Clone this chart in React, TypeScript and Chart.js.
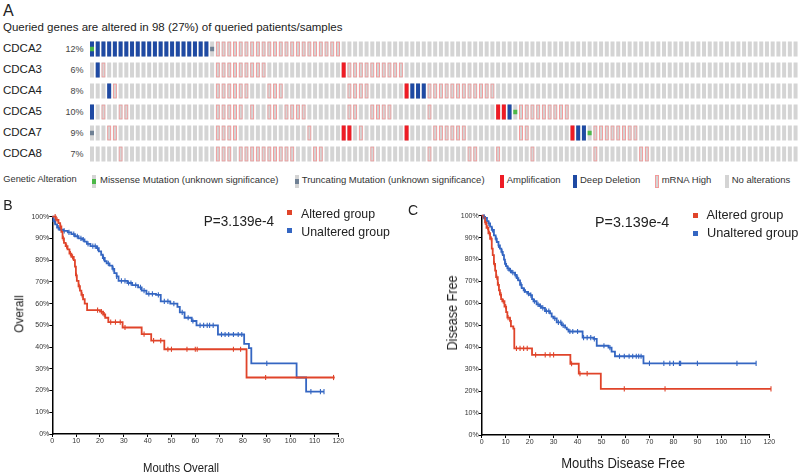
import React, { useEffect, useRef } from 'react';
import { Chart, registerables } from 'chart.js';
Chart.register(...registerables);

const FONT = '"Liberation Sans", Arial, Helvetica, sans-serif';

// ---------- Panel A: oncoprint ----------
const GENES = ['CDCA2', 'CDCA3', 'CDCA4', 'CDCA5', 'CDCA7', 'CDCA8'];
const GENE_PCT = ['12%', '6%', '8%', '10%', '9%', '7%'];
// one char per sample column: . none, M mRNA high, A amplification, D deep deletion,
// S missense, T truncating, X deep deletion + missense
const CDCA2_ROW = 'XDDDDDDDDD DDDDDDDDDD DTMMMMMMMM MMMMMMMMMM MMMM...... .......... .......... .......... .......... .......... .......... .......... ....';
const CDCA3_ROW = '.DM....... .......... ..MMMMMMMM M......... ....AMMMMM MMMMM..... .......... .......... .......... .......... .......... .......... ....';
const CDCA4_ROW = '...DM..... .......... ..MMMMMM.. .MMM...... .....MMMM. .....ADDDM MMMMMMMMMM M......... .......... .......... .......... .......... ....';
const CDCA5_ROW = 'D.M..MM... .......... ..MMMMM.M. .MM.MMMM.. .....MM..M MMM......M .......... .AADSMMMMM MMMM...... .......... .......... .......... ....';
const CDCA7_ROW = 'T..MM..... .......... ..MMMM.... ........M. ....AA.M.. .....A.... MMMMMM.... .....MM... ....ADDSMM MMMMMM.... .......... .......... ....';
const CDCA8_ROW = '.....M.... .......... ..MMM.MMMM MMMMMM...M M........M .........M ......MM.. .M.....M.. ........M. ......MM.. .......... .......... ....';
const GENE_ROWS = [CDCA2_ROW, CDCA3_ROW, CDCA4_ROW, CDCA5_ROW, CDCA7_ROW, CDCA8_ROW];

const C_GRAY = '#d4d4d4';
const C_MRNA = '#f39a9a';
const C_AMP = '#ee1c25';
const C_DEL = '#1f4aa3';
const C_MISS = '#4cb848';
const C_TRUNC = '#6f8094';

// ---------- Panel B: overall survival ----------
const B_ALT_T = [0, 1.5, 2.6, 3.3, 3.8, 4.3, 4.9, 5.6, 6.4, 7.2, 8.0, 9.0, 9.5, 9.9, 10.3, 11.0, 11.6, 12.2, 12.9, 13.6, 14.6, 20.0, 21.3, 22.2, 23.5, 29.5, 37.5, 41.5, 47.0, 81.5, 118.5];
const B_ALT_S = [100, 98.5, 97, 95.5, 93, 90, 88, 86.5, 85, 83, 81.5, 80, 77, 73, 70.5, 68, 66, 64, 62, 60, 57, 56.3, 55, 53.5, 51.5, 49, 46, 43, 39, 26, 26];
const B_ALT_CENS = [1.2, 2.0, 3.5, 4.6, 6.0, 7.6, 8.5, 10.1, 11.3, 12.5, 19.0, 20.6, 21.8, 24.5, 26.5, 28.5, 30.5, 38.5, 42.5, 45.5, 48.5, 50.0, 56.5, 60.0, 60.8, 76.0, 79.0, 89.5, 118.0];
const B_UNALT_T = [0, 0.5, 1.2, 2.0, 3.0, 4.6, 6.5, 8.0, 9.5, 11.0, 12.5, 13.5, 14.5, 16.0, 18.5, 19.5, 20.5, 21.2, 22.0, 22.8, 24.0, 25.2, 26.0, 27.0, 27.8, 31.5, 33.5, 36.0, 37.5, 39.5, 43.5, 45.5, 49.5, 52.5, 53.5, 55.5, 58.5, 60.5, 69.5, 80.5, 82.5, 83.5, 102.5, 106.5, 114.0];
const B_UNALT_S = [100, 98, 96.5, 95, 94, 93.5, 92.8, 92, 91, 90, 89.5, 88.5, 87.5, 86.5, 85.5, 84, 82.5, 81, 79.5, 78.5, 77.5, 76, 74, 72.5, 70.5, 69.5, 68.5, 67.5, 66, 64.5, 64, 61, 60, 58.5, 56, 53.5, 52, 50, 45.8, 41.5, 39.5, 32.5, 26, 19.5, 19.5];
const B_UNALT_CENS = [1.0, 2.5, 5.0, 7.0, 9.0, 10.5, 12.0, 13.0, 15.0, 17.0, 18.0, 19.0, 21.5, 23.5, 25.5, 27.0, 29.0, 30.5, 32.0, 33.0, 35.0, 37.0, 38.5, 40.5, 42.0, 44.5, 47.0, 48.5, 51.0, 54.5, 57.0, 59.0, 62.0, 63.5, 65.0, 66.0, 67.5, 71.0, 72.5, 74.0, 76.0, 78.0, 79.5, 90.0, 108.5, 112.5, 114.0];

// ---------- Panel C: disease free ----------
const C_ALT_T = [0, 0.8, 1.4, 2.0, 2.8, 3.5, 4.2, 4.6, 5.1, 5.6, 6.0, 6.7, 7.2, 7.6, 8.1, 8.6, 9.5, 10.2, 10.7, 11.8, 12.2, 13.2, 13.6, 21.0, 37.0, 40.5, 49.7, 120.7];
const C_ALT_S = [100, 99, 97, 94.5, 92, 89.5, 85, 82, 78, 75, 72, 68.5, 66, 64, 62, 61, 58.5, 56, 53.5, 52, 49.5, 48.5, 39.5, 36.5, 32.5, 28, 21, 21];
const C_ALT_CENS = [1.5, 2.5, 3.2, 4.0, 5.3, 6.3, 7.0, 8.0, 9.0, 10.0, 11.0, 12.0, 14.5, 16.0, 17.5, 19.0, 22.5, 26.5, 28.5, 30.0, 37.5, 41.0, 44.0, 59.5, 76.5, 120.7];
const C_UNALT_T = [0, 0.8, 1.4, 2.2, 2.8, 3.5, 4.2, 5.1, 5.8, 6.3, 7.0, 7.6, 8.2, 8.8, 9.3, 9.7, 10.2, 10.7, 11.5, 12.5, 13.9, 14.6, 15.3, 16.0, 16.7, 17.5, 18.1, 19.0, 20.2, 21.0, 21.6, 22.9, 24.0, 25.0, 26.4, 28.5, 29.2, 29.9, 31.3, 33.4, 34.8, 35.5, 36.2, 42.1, 46.6, 48.0, 52.9, 54.2, 55.6, 67.5, 114.5];
const C_UNALT_S = [100, 99.5, 99, 97.5, 96.5, 95, 93.5, 91, 89.5, 88, 86.5, 85, 83.5, 82, 80, 78, 77, 76, 75, 74, 73, 71.5, 70.5, 68.5, 67, 66, 65.3, 64.5, 63.8, 62, 61, 59.6, 58.8, 58, 56.5, 55.5, 54, 53.2, 51.4, 50, 49, 48.2, 47.2, 44.4, 43.8, 40.7, 39.8, 38, 35.9, 32.7, 32.7];
const C_UNALT_CENS = [1.0, 3.0, 4.5, 6.0, 7.0, 8.5, 10.0, 11.0, 12.0, 13.0, 14.0, 15.0, 16.5, 17.8, 19.5, 20.5, 22.0, 23.5, 24.5, 25.5, 27.0, 28.0, 30.5, 32.0, 33.0, 34.0, 36.8, 38.0, 40.0, 42.5, 44.0, 45.5, 47.0, 51.0, 53.5, 57.5, 59.5, 61.5, 63.0, 64.5, 65.5, 66.5, 70.0, 76.0, 78.5, 80.0, 82.5, 83.0, 90.0, 106.5, 114.5];

const KM_X_TICKS = [0, 10, 20, 30, 40, 50, 60, 70, 80, 90, 100, 110, 120];
const KM_Y_TICKS = [0, 10, 20, 30, 40, 50, 60, 70, 80, 90, 100];

const C_RED = '#e0442a';
const C_BLUE = '#3466c2';

// ---------- chart builders ----------
function oncoConfig(): any {
  const rows = GENE_ROWS.map((s) => s.replace(/\s/g, ''));
  const n = rows[0].length;
  const labels = rows[0].split('').map((_, i) => String(i + 1));
  const H = 0.357;
  const h = 0.11;
  const datasets: any[] = [];
  rows.forEach((row, r) => {
    const chars = row.split('');
    const mk = (test: (c: string) => boolean, half: number) =>
      chars.map((c) => (test(c) ? [r - half, r + half] : null));
    datasets.push({ data: mk(() => true, H), backgroundColor: C_GRAY, order: 5 });
    datasets.push({ data: mk((c) => c === 'M', H), backgroundColor: 'rgba(0,0,0,0)', borderColor: C_MRNA, borderWidth: 1, borderSkipped: false, order: 4 });
    datasets.push({ data: mk((c) => c === 'A', H), backgroundColor: C_AMP, order: 3 });
    datasets.push({ data: mk((c) => c === 'D' || c === 'X', H), backgroundColor: C_DEL, order: 3 });
    datasets.push({ data: mk((c) => c === 'S' || c === 'X', h), backgroundColor: C_MISS, order: 1 });
    datasets.push({ data: mk((c) => c === 'T', h), backgroundColor: C_TRUNC, order: 1 });
  });
  return {
    type: 'bar',
    data: { labels, datasets },
    options: {
      animation: false,
      responsive: false,
      events: [],
      layout: { padding: { left: 89.14, right: 800 - 89.14 - n * 5.72, top: 0.5, bottom: 0.5 } },
      datasets: { bar: { grouped: false, barPercentage: 0.7, categoryPercentage: 1.0 } },
      plugins: { legend: { display: false }, tooltip: { enabled: false } },
      scales: {
        x: { type: 'category', display: false },
        y: { type: 'linear', min: -0.5, max: 5.5, reverse: true, display: false },
      },
    },
  };
}

function stepValue(t: number[], s: number[], x: number) {
  let v = s[0];
  for (let i = 0; i < t.length; i++) if (t[i] <= x) v = s[i];
  return v;
}

function kmConfig(p: any): any {
  const line = (t: number[], s: number[], color: string) => ({
    data: t.map((x, i) => ({ x, y: s[i] })),
    borderColor: color,
    borderWidth: 1.8,
    stepped: 'before',
    pointRadius: 0,
    fill: false,
    clip: false,
    order: 2,
  });
  const cens = (times: number[], t: number[], s: number[], color: string) => ({
    data: times.map((x) => ({ x, y: stepValue(t, s, x) })),
    showLine: false,
    pointStyle: 'line',
    rotation: 90,
    pointRadius: 2.6,
    pointBorderWidth: 1.1,
    pointBorderColor: color,
    borderColor: color,
    clip: false,
    order: 1,
  });
  const tickFont = { size: 7, family: FONT };
  return {
    type: 'line',
    data: {
      datasets: [
        line(p.altT, p.altS, C_RED),
        line(p.unT, p.unS, C_BLUE),
        cens(p.altC, p.altT, p.altS, C_RED),
        cens(p.unC, p.unT, p.unS, C_BLUE),
      ],
    },
    options: {
      animation: false,
      responsive: false,
      events: [],
      layout: { padding: { left: 0, right: p.padRight, top: p.padTop, bottom: 0 } },
      plugins: { legend: { display: false }, tooltip: { enabled: false } },
      scales: {
        x: {
          type: 'linear',
          min: 0,
          max: 120,
          afterFit: (s: any) => { s.height = p.xAxisH; },
          afterBuildTicks: (s: any) => { s.ticks = KM_X_TICKS.map((v) => ({ value: v })); },
          ticks: { font: tickFont, color: '#333', padding: 0, maxRotation: 0, autoSkip: false },
          grid: { drawOnChartArea: false, drawTicks: true, tickLength: 3, color: '#000', lineWidth: 1 },
          border: { color: '#000', width: 1.5 },
        },
        y: {
          type: 'linear',
          min: 0,
          max: 100,
          afterFit: (s: any) => { s.width = p.yAxisW; },
          afterBuildTicks: (s: any) => { s.ticks = KM_Y_TICKS.map((v) => ({ value: v })); },
          ticks: { font: tickFont, color: '#333', padding: 0, callback: (v: any) => v + '%' },
          grid: { drawOnChartArea: false, drawTicks: true, tickLength: 3, color: '#000', lineWidth: 1 },
          border: { color: '#000', width: 1.5 },
        },
      },
    },
  };
}

function ChartBox({ left, top, width, height, make }: any) {
  const ref = useRef<HTMLCanvasElement>(null);
  useEffect(() => {
    const chart = new Chart(ref.current as HTMLCanvasElement, make());
    return () => chart.destroy();
  }, []);
  return (
    <canvas
      ref={ref}
      width={width}
      height={height}
      style={{ position: 'absolute', left, top, width, height }}
    />
  );
}

function Txt({ x, y, size, children, color = '#222', anchor = 'left', rotate = false, sx = 1 }: any) {
  const tx = anchor === 'left' ? '0' : anchor === 'right' ? '-100%' : '-50%';
  return (
    <div
      style={{
        position: 'absolute',
        left: x,
        top: y,
        fontSize: size,
        lineHeight: 1,
        whiteSpace: 'nowrap',
        color,
        transform: `translate(${tx}, -50%)${rotate ? ' rotate(-90deg)' : ''}${sx !== 1 ? ` scaleX(${sx})` : ''}`,
      }}
    >
      {children}
    </div>
  );
}

function Box({ x, y, w, h, bg, border }: any) {
  return (
    <div
      style={{
        position: 'absolute',
        left: x,
        top: y,
        width: w,
        height: h,
        background: bg,
        boxSizing: 'border-box',
        border: border ? `1px solid ${border}` : 'none',
      }}
    />
  );
}

const ROW_Y = [49, 70, 91, 112, 133, 154];

export default function App() {
  return (
    <div
      style={{
        position: 'absolute',
        left: 0,
        top: 0,
        width: 800,
        height: 475,
        background: '#fff',
        overflow: 'hidden',
        fontFamily: FONT,
      }}
    >
      {/* Panel A */}
      <Txt x={3} y={11} size={16}>A</Txt>
      <Txt x={3} y={28} size={11.5}>Queried genes are altered in 98 (27%) of queried patients/samples</Txt>
      {GENES.map((g, i) => (
        <Txt key={g} x={3} y={ROW_Y[i]} size={11.5}>{g}</Txt>
      ))}
      {GENE_PCT.map((p, i) => (
        <Txt key={'p' + i} x={83.5} y={ROW_Y[i]} size={9} color="#444" anchor="right">{p}</Txt>
      ))}
      <ChartBox left={0} top={38} width={800} height={127} make={oncoConfig} />

      {/* Legend A */}
      <Txt x={3.3} y={180} size={9.3} color="#333">Genetic Alteration</Txt>
      <Box x={91.5} y={174.5} w={4} h={13} bg={C_GRAY} />
      <Box x={91.5} y={178.5} w={4} h={5} bg={C_MISS} />
      <Txt x={100} y={180} size={9.5} color="#333">Missense Mutation (unknown significance)</Txt>
      <Box x={295} y={174.5} w={4} h={13} bg={C_GRAY} />
      <Box x={295} y={178.5} w={4} h={5} bg={C_TRUNC} />
      <Txt x={301.7} y={180} size={9.5} color="#333">Truncating Mutation (unknown significance)</Txt>
      <Box x={500} y={174.5} w={4} h={13} bg={C_AMP} />
      <Txt x={506.7} y={180} size={9.5} color="#333">Amplification</Txt>
      <Box x={572.7} y={174.5} w={4} h={13} bg={C_DEL} />
      <Txt x={580} y={180} size={9.5} color="#333">Deep Deletion</Txt>
      <Box x={655} y={174.5} w={4} h={13} bg={C_GRAY} border={C_MRNA} />
      <Txt x={661.7} y={180} size={9.5} color="#333">mRNA High</Txt>
      <Box x={725} y={174.5} w={4} h={13} bg={C_GRAY} />
      <Txt x={731.7} y={180} size={9.5} color="#333">No alterations</Txt>

      {/* Panel B */}
      <ChartBox
        left={0}
        top={195}
        width={400}
        height={280}
        make={() =>
          kmConfig({
            altT: B_ALT_T, altS: B_ALT_S, altC: B_ALT_CENS,
            unT: B_UNALT_T, unS: B_UNALT_S, unC: B_UNALT_CENS,
            padRight: 61.7, padTop: 21.7, xAxisH: 41, yAxisW: 52.3,
          })
        }
      />
      <Txt x={3.3} y={205} size={14}>B</Txt>
      <Txt x={203.3} y={221.7} size={13.8} sx={0.98}>P=3.139e-4</Txt>
      <Box x={287} y={209.5} w={5} h={5} bg={C_RED} />
      <Txt x={299.3} y={212.5} size={13} sx={0.95}>Altered group</Txt>
      <Box x={287} y={227.5} w={5} h={5} bg={C_BLUE} />
      <Txt x={299.3} y={230.5} size={13} sx={0.95}>Unaltered group</Txt>
      <Txt x={19} y={313.5} size={13.5} anchor="center" rotate sx={0.88}>Overall</Txt>
      <Txt x={180.8} y={466.7} size={13} anchor="center" sx={0.87}>Mouths Overall</Txt>

      {/* Panel C */}
      <ChartBox
        left={400}
        top={195}
        width={400}
        height={280}
        make={() =>
          kmConfig({
            altT: C_ALT_T, altS: C_ALT_S, altC: C_ALT_CENS,
            unT: C_UNALT_T, unS: C_UNALT_S, unC: C_UNALT_CENS,
            padRight: 30.7, padTop: 20.7, xAxisH: 40, yAxisW: 81.7,
          })
        }
      />
      <Txt x={408} y={210} size={14}>C</Txt>
      <Txt x={595} y={221.7} size={14.3}>P=3.139e-4</Txt>
      <Box x={692.5} y={213} w={5} h={5} bg={C_RED} />
      <Txt x={705} y={215} size={13.3} sx={0.96}>Altered group</Txt>
      <Box x={692.5} y={230.5} w={5} h={5} bg={C_BLUE} />
      <Txt x={705} y={232.7} size={13.3} sx={0.96}>Unaltered group</Txt>
      <Txt x={452} y={312.5} size={14} anchor="center" rotate sx={0.9}>Disease Free</Txt>
      <Txt x={623.3} y={462.7} size={14} anchor="center" sx={0.93}>Mouths Disease Free</Txt>
    </div>
  );
}
